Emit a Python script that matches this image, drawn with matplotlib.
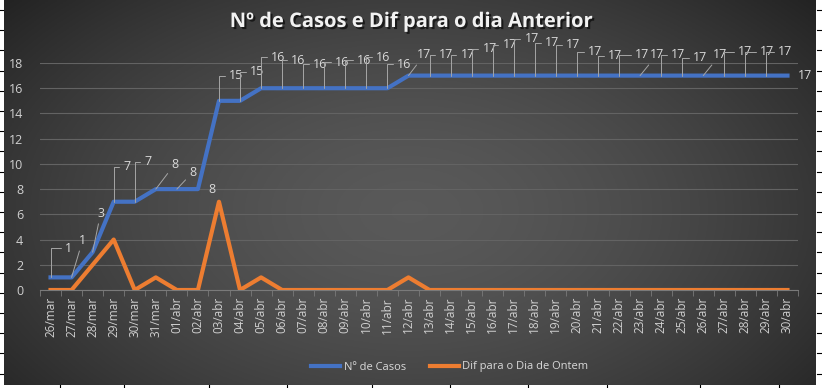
import numpy as np
import matplotlib
matplotlib.use("Agg")
import matplotlib.pyplot as plt
import matplotlib.patheffects as pe

plt.rcParams['font.family'] = ['Open Sans', 'DejaVu Sans']

# data
dias = ["26/mar", "27/mar", "28/mar", "29/mar", "30/mar", "31/mar",
        "01/abr", "02/abr", "03/abr", "04/abr", "05/abr", "06/abr",
        "07/abr", "08/abr", "09/abr", "10/abr", "11/abr", "12/abr",
        "13/abr", "14/abr", "15/abr", "16/abr", "17/abr", "18/abr",
        "19/abr", "20/abr", "21/abr", "22/abr", "23/abr", "24/abr",
        "25/abr", "26/abr", "27/abr", "28/abr", "29/abr", "30/abr"]
casos = [1, 1, 3, 7, 7, 8, 8, 8, 15, 15, 16, 16, 16, 16, 16, 16, 16,
         17, 17, 17, 17, 17, 17, 17, 17, 17, 17, 17, 17, 17, 17, 17, 17, 17, 17, 17]
dif = [0, 0, 2, 4, 0, 1, 0, 0, 7, 0, 1, 0, 0, 0, 0, 0, 0,
       1, 0, 0, 0, 0, 0, 0, 0, 0, 0, 0, 0, 0, 0, 0, 0, 0, 0, 0]
rotulos = ["1", "1", "3", "7", "7", "8", "8", "8", "15", "15", "16", "16", "16", "16",
           "16", "16", "16", "17", "17", "17", "17", "17", "17", "17", "17", "17",
           "17", "17", "17", "17", "17", "17", "17", "17", "17", "17"]

# label offsets in pixels (dx, dy) and leader style: 'e' elbow, 's' straight, '' none
offs = [(18, 29, 'e'), (11, 37, 's'), (8, 39, 's'), (13, 35, 'e'), (13, 40, 'e'),
        (19, 25, 's'), (16, 17, 's'), (14, 0, ''), (17, 25, 'e'), (17, 29, 'e'),
        (17, 31, 'e'), (16, 28, 'e'), (17, 24, 'e'), (18, 26, 'e'), (19, 28, 'e'),
        (17, 31, 'e'), (17, 24, 'e'), (16, 21, 's'), (17, 21, 'e'), (17, 21, 'e'),
        (18, 27, 'e'), (17, 31, 'e'), (18, 37, 'e'), (17, 33, 'e'), (17, 31, 'e'),
        (18, 24, 'e'), (17, 20, 'e'), (23, 21, 'e'), (17, 21, 's'), (17, 21, 'e'),
        (18, 18, 'e'), (17, 21, 's'), (21, 24, 'e'), (22, 24, 'e'), (19, 24, 'e'),
        (18, 0, '')]

W, H = 822, 388
fig = plt.figure(figsize=(W / 100, H / 100), dpi=100, facecolor="white")

# dark radial gradient background
bg = fig.add_axes([4 / W, 3 / H, 811 / W, 385 / H])
yy, xx = np.mgrid[0:1:200j, 0:1:400j]
r = np.sqrt(((xx - 0.5) / 0.75) ** 2 + ((yy - 0.55) / 0.95) ** 2)
g = np.clip(0.35 - 0.26 * r ** 1.6, 0.14, 0.35)
bg.imshow(np.dstack([g, g, g]), aspect="auto", extent=[0, 1, 0, 1])
bg.set_axis_off()

# spreadsheet edge marks
deco = fig.add_axes([0, 0, 1, 1], zorder=-1)
deco.set_xlim(0, W)
deco.set_ylim(H, 0)
deco.set_axis_off()
for yv in np.arange(10, 380, 20.2):
    deco.plot([0, 3], [yv, yv], color="black", lw=0.8)
    deco.plot([817, 821], [yv, yv], color="black", lw=0.8)
for xv in [60, 124, 209, 287, 372, 450, 528, 607, 700, 779]:
    deco.plot([xv, xv], [385, 388], color="black", lw=0.8)

ax = fig.add_axes([40 / W, 1 - 290 / H, 758 / W, 227 / H])
ax.patch.set_alpha(0)
x = np.arange(len(dias))
ax.plot(x, casos, color="#4472C4", lw=3, solid_joinstyle="round", zorder=4, label="Nº de Casos")
ax.plot(x, dif, color="#ED7D31", lw=3, solid_joinstyle="round", zorder=3, label="Dif para o Dia de Ontem")

ax.set_xlim(-0.5, len(dias) - 0.5)
ax.set_ylim(0, 18)
ax.set_yticks(range(0, 19, 2))
ax.grid(axis="y", color="#636363", lw=0.8)
ax.set_axisbelow(True)
for s in ["top", "right", "left"]:
    ax.spines[s].set_visible(False)
ax.spines["bottom"].set_color("#7a7a7a")
ax.spines["bottom"].set_linewidth(0.8)
ax.set_xticks(x)
ax.set_xticklabels(dias, rotation=90, fontsize=8.5, color="#d0d0d0")
ax.set_xticks(np.arange(-0.5, len(dias), 1), minor=True)
ax.tick_params(axis="x", which="major", length=0, pad=5)
ax.tick_params(axis="x", which="minor", length=4, color="#7a7a7a")
ax.tick_params(axis="y", length=0, labelsize=9, labelcolor="#d0d0d0", pad=12)

for i, (v, t) in enumerate(zip(casos, rotulos)):
    dx, dy, kind = offs[i]
    ap = None
    if kind == 'e':
        ap = dict(arrowstyle="-", color="#a6a6a6", lw=0.7, shrinkA=1, shrinkB=0,
                  connectionstyle="angle,angleA=180,angleB=90,rad=0")
    elif kind == 's':
        ap = dict(arrowstyle="-", color="#a6a6a6", lw=0.7, shrinkA=1, shrinkB=0)
    ax.annotate(t, (i, v), xytext=(dx, dy), textcoords="offset pixels",
                ha="center", va="center", fontsize=9, color="#d9d9d9",
                arrowprops=ap, annotation_clip=False, zorder=5)

fig.text(411 / W, 1 - 22 / H, "Nº de Casos e Dif para o dia Anterior", ha="center", va="center",
         fontsize=14.5, fontweight="bold", color="#f2f2f2",
         path_effects=[pe.withSimplePatchShadow(offset=(1.5, -1.5), shadow_rgbFace="black", alpha=0.6)])

leg = fig.legend(loc="center", bbox_to_anchor=(450 / W, 1 - 367 / H), ncol=2, frameon=False,
                 fontsize=8, labelcolor="#d9d9d9", handlelength=2.6, columnspacing=2.2,
                 handletextpad=0.3)

fig.savefig("out.png", dpi=100, facecolor="white")
